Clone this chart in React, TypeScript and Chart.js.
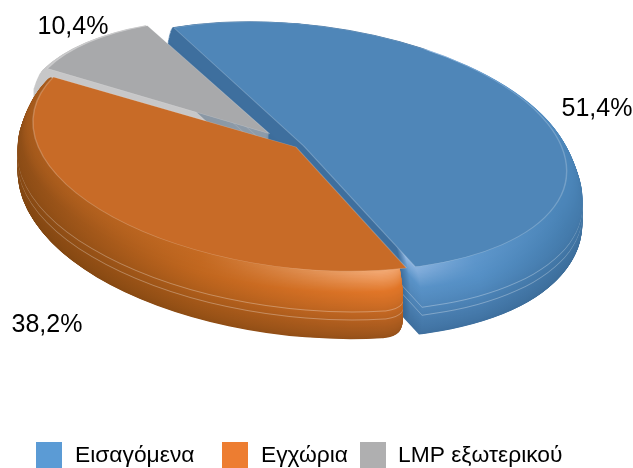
import React, { useEffect, useRef } from "react";
import { Chart, registerables } from "chart.js";

Chart.register(...registerables);

const categories = ["Εισαγόμενα", "Εγχώρια", "LMP εξωτερικού"];
const shares = [51.4, 38.2, 10.4];
const legendColors = ["#5b9bd5", "#ed7d31", "#afafb0"];
const topColors = ["#4f86b8", "#c86b27", "#a8a9ab"];
const explode = [24, 0, 110];

const FONT = '"Liberation Sans", Arial, sans-serif';
const W = 633;
const H = 468;
const CX = 296;
const CY = 147;
const RX = 280;
const RY = 128;
const TILT = 0.12;
const DEPTH = 64;
const TOP_SCALE = 0.945;
const drawOrder = [0, 2, 1];

const labelAnchors = [
  [597, 109],
  [47, 325],
  [73, 27],
];
const legendBoxes = [36, 222, 360];
const legendTexts = [75, 261, 398];

type Stop = [number, string[]];
const wallStops: Stop[][] = [
  [
    [0, ["#3e6f9e", "#3e6f9e", "#335f88"]],
    [0.7, ["#3e6f9e", "#3e6f9e", "#335f88"]],
    [0.72, ["#93b8e2", "#5a93c8", "#3e6f9e"]],
    [0.85, ["#5f97cc", "#5590c6", "#3e6f9e"]],
    [1, ["#4c86ba", "#467eb0", "#3a6a96"]],
  ],
  [
    [0, ["#a85b1c", "#8f4e17", "#7c430f"]],
    [0.35, ["#c56a22", "#c0661e", "#8f4d14"]],
    [0.68, ["#f2a974", "#e17628", "#94501a"]],
    [1, ["#f2a974", "#e17628", "#94501a"]],
  ],
  [[0, ["#b0b0b1", "#b0b0b1", "#b0b0b1"]], [1, ["#b0b0b1", "#b0b0b1", "#b0b0b1"]]],
];

function hexRgb(h: string) {
  return [1, 3, 5].map((i) => parseInt(h.slice(i, i + 2), 16));
}
function mix(a: string, b: string, t: number) {
  const x = hexRgb(a);
  const y = hexRgb(b);
  const c = x.map((v, i) => Math.round(v + (y[i] - v) * t).toString(16).padStart(2, "0"));
  return "#" + c.join("");
}
function depthColor(c: string[], t: number) {
  if (t < 0.25) return mix(c[0], c[1], t / 0.25);
  return mix(c[1], c[2], (t - 0.25) / 0.75);
}
function bevel(t: number) {
  const rise = Math.sqrt(Math.min(t / 0.4, 1));
  const fall = t > 0.8 ? ((t - 0.8) / 0.2) ** 2 * 0.025 : 0;
  return TOP_SCALE + (1 - TOP_SCALE) * rise - fall;
}

function place(ctx: CanvasRenderingContext2D, el: any, d: number, s: number) {
  const R = el.outerRadius + (el.options.offset || 0) / 4;
  ctx.translate(CX, CY + d);
  ctx.rotate(TILT);
  ctx.scale((RX / R) * s, (RY / R) * s);
  ctx.translate(-el.x, -el.y);
}

function drawArc(ctx: CanvasRenderingContext2D, el: any, extra: any) {
  const saved = el.options;
  el.options = { ...saved, ...extra };
  el.draw(ctx);
  el.options = saved;
}

function drawWall(ctx: CanvasRenderingContext2D, el: any, i: number) {
  for (let d = DEPTH; d >= 1; d--) {
    const t = d / DEPTH;
    ctx.save();
    place(ctx, el, d, bevel(t));
    const R = el.outerRadius;
    const g = ctx.createLinearGradient(el.x - R, 0, el.x + R, 0);
    const ring = i !== 2 && (d === 34 || d === 42);
    wallStops[i].forEach(([p, cols]) => {
      const col = depthColor(cols, t);
      g.addColorStop(p, ring ? mix(col, "#ffffff", 0.3) : col);
    });
    drawArc(ctx, el, {
      backgroundColor: g,
      borderWidth: 0,
      borderRadius: i === 1 ? { outerStart: 18, outerEnd: 0, innerStart: 0, innerEnd: 0 } : 0,
    });
    ctx.restore();
  }
}

const pie3d = {
  id: "pie3d",
  beforeDatasetsDraw(chart: any) {
    const ctx: CanvasRenderingContext2D = chart.ctx;
    const arcs = chart.getDatasetMeta(0).data;
    drawOrder.forEach((i) => {
      const el = arcs[i];
      if (i === 2) {
        const off = document.createElement("canvas");
        off.width = chart.canvas.width;
        off.height = chart.canvas.height;
        const octx = off.getContext("2d") as CanvasRenderingContext2D;
        drawWall(octx, el, i);
        ctx.save();
        ctx.setTransform(1, 0, 0, 1, 0, 0);
        ctx.globalAlpha = 0.7;
        ctx.drawImage(off, 0, 0);
        ctx.restore();
      } else {
        drawWall(ctx, el, i);
      }
      ctx.save();
      place(ctx, el, 0, bevel(0));
      drawArc(ctx, el, {
        backgroundColor: topColors[i],
        borderWidth: 1,
        borderColor: "rgba(255,255,255,0.22)",
      });
      ctx.restore();
    });
    return false;
  },
  afterDraw(chart: any) {
    const ctx: CanvasRenderingContext2D = chart.ctx;
    ctx.save();
    ctx.fillStyle = "#000";
    ctx.textBaseline = "middle";
    ctx.textAlign = "center";
    ctx.font = `25px ${FONT}`;
    shares.forEach((v, i) => {
      ctx.fillText(v.toFixed(1).replace(".", ",") + "%", labelAnchors[i][0], labelAnchors[i][1]);
    });
    ctx.textAlign = "left";
    ctx.textBaseline = "alphabetic";
    ctx.font = `22.8px ${FONT}`;
    categories.forEach((c, i) => {
      ctx.fillStyle = legendColors[i];
      ctx.fillRect(legendBoxes[i], 442, 26, 26);
      ctx.fillStyle = "#000";
      ctx.fillText(c, legendTexts[i], 462);
    });
    ctx.restore();
  },
};

export default function App() {
  const ref = useRef<HTMLCanvasElement>(null);
  useEffect(() => {
    if (!ref.current) return;
    const chart = new Chart(ref.current, {
      type: "pie",
      data: {
        labels: categories,
        datasets: [{ data: shares, backgroundColor: legendColors, offset: explode, borderWidth: 0 }],
      },
      options: {
        responsive: false,
        animation: false,
        rotation: -33,
        plugins: { legend: { display: false }, tooltip: { enabled: false } },
      },
      plugins: [pie3d],
    } as any);
    return () => chart.destroy();
  }, []);
  return (
    <div style={{ position: "fixed", left: 0, top: 0, width: W, height: H, background: "#fff" }}>
      <canvas ref={ref} width={W} height={H} style={{ display: "block" }} />
    </div>
  );
}
